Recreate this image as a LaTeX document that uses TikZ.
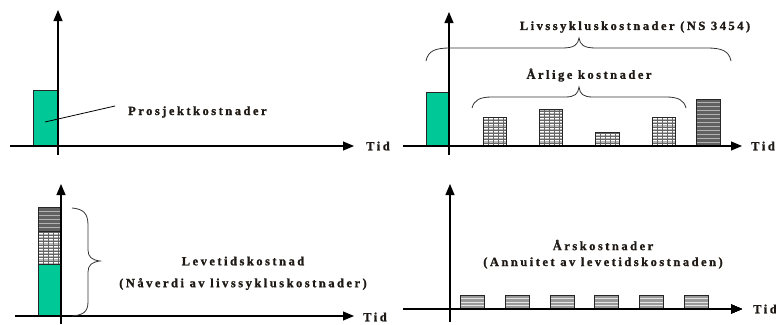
\documentclass[tikz,border=0pt]{standalone}
\usepackage{fontspec}
\setmainfont{Liberation Serif}
\newfontfamily\lab[LetterSpace=20,FakeBold=1.2]{Liberation Serif Bold}
\usetikzlibrary{arrows.meta}
\definecolor{projgreen}{RGB}{0,200,150}
\definecolor{txt}{RGB}{30,25,20}
\tikzset{
  axis/.style={line width=1.1pt, -{Triangle[length=11pt,width=9pt]}},
  barline/.style={draw=black!85, line width=1pt},
  lbl/.style={inner sep=0pt, font=\lab\fontsize{12.5}{14}\selectfont, text=txt},
  brc/.style={line width=0.8pt, draw=black!80},
}
\newcommand{\stripedbar}[7]{% x1, ytop, x2, ybottom, fill, linecolor, spacing
  \begin{scope}
    \clip (#1,#2) rectangle (#3,#4);
    \fill[#5] (#1,#2) rectangle (#3,#4);
    \foreach \k in {1,...,40}
      \draw[#6, line width=0.9pt] (#1,{#4-\k*#7}) -- (#3,{#4-\k*#7});
  \end{scope}
  \draw[barline] (#1,#4) rectangle (#3,#2);}
\newcommand{\gridbar}[4]{% x1, ytop, x2, ybottom
  \begin{scope}
    \clip (#1,#2) rectangle (#3,#4);
    \fill[black!28] (#1,#2) rectangle (#3,#4);
    \foreach \k in {1,...,40}
      \draw[white, line width=0.8pt] (#1,{#4-\k*3.2+1.2}) -- (#3,{#4-\k*3.2+1.2});
    \foreach \k in {1,...,40}
      \draw[black!60, line width=0.5pt] (#1,{#4-\k*3.2}) -- (#3,{#4-\k*3.2});
    \foreach \k in {1,...,8}
      \draw[black!60, line width=0.5pt] ({#1+\k*5},#2) -- ({#1+\k*5},#4);
  \end{scope}
  \draw[barline] (#1,#4) rectangle (#3,#2);}
\begin{document}
\begin{tikzpicture}[x=1pt,y=-1pt]
\useasboundingbox (0,0) rectangle (776,324);

% ---------- top left ----------
\fill[projgreen] (33,90) rectangle (58,146);
\draw[barline] (33,146) rectangle (58,90);
\draw[axis] (10,146) -- (354,146);
\draw[axis] (58,155) -- (58,10);
\coordinate (lp1) at (45,122);
\node[lbl, anchor=west] (prosj) at (128,112) {Prosjektkostnader};
\coordinate (lp2) at (115,106);
\draw[line width=0.8pt] (lp1) -- (lp2);
\node[lbl, anchor=west] (tid1) at (366,146) {Tid};

% ---------- top right ----------
\fill[projgreen] (426,92) rectangle (449,146);
\draw[barline] (426,146) rectangle (449,92);
\gridbar{483}{117}{506}{146}
\gridbar{539}{109}{562}{146}
\gridbar{595}{132}{619}{146}
\gridbar{652}{117}{675}{146}
\stripedbar{696}{99}{720}{146}{black!62}{black!30}{4}
\draw[axis] (403,146) -- (742,146);
\draw[axis] (449,155) -- (449,12);
\node[lbl, anchor=east] (tid2) at (775,146) {Tid};
% outer brace
\draw[brc] (426,61) .. controls (428,51) and (435,48) .. (450,48) -- (562,48)
  .. controls (574,48) and (578,45) .. (579,38)
  .. controls (580,45) and (584,48) .. (596,48) -- (707,48)
  .. controls (722,48) and (729,51) .. (731,61);
\node[lbl] (lcc) at (635,27) {Livssykluskostnader (NS 3454)};
% inner brace
\draw[brc] (472,108) .. controls (474,100) and (480,97) .. (492,97) -- (565,97)
  .. controls (575,97) and (578,94) .. (579,87)
  .. controls (580,94) and (583,97) .. (593,97) -- (666,97)
  .. controls (678,97) and (684,100) .. (686,108);
\node[lbl] (arl) at (589,75) {Årlige kostnader};

% ---------- bottom left ----------
\fill[projgreen] (38,264) rectangle (61,316);
\gridbar{38}{231}{61}{264}
\stripedbar{38}{207}{61}{231}{black!62}{black!30}{4}
\draw[barline] (38,316) rectangle (61,207);
\draw[barline] (38,231) -- (61,231);
\draw[barline] (38,264) -- (61,264);
\draw[axis] (15,316) -- (354,316);
\draw[axis] (61,324) -- (61,184);
\draw[brc] (72,208) .. controls (83,209) and (88,213) .. (88,225) -- (88,250)
  .. controls (88,257) and (92,260) .. (100,261)
  .. controls (92,262) and (88,265) .. (88,272) -- (88,302)
  .. controls (88,312) and (83,315) .. (72,316);
\node[lbl] (lev) at (243,261) {Levetidskostnad};
\node[lbl] (nav) at (243,284) {(Nåverdi av livssykluskostnader)};
\node[lbl, anchor=west] (tid3) at (363,317) {Tid};

% ---------- bottom right ----------
\foreach \xa in {460,505,550,594,639,684}
  \stripedbar{\xa}{295}{\xa+24}{309}{black!40}{white!90!black}{3.5}
\draw[axis] (403,309) -- (742,309);
\draw[axis] (450,322) -- (450,184);
\node[lbl] (ars) at (603,245) {Årskostnader};
\node[lbl] (ann) at (603,263) {(Annuitet av levetidskostnaden)};
\node[lbl, anchor=west] (tid4) at (753,309) {Tid};
\end{tikzpicture}
\end{document}
